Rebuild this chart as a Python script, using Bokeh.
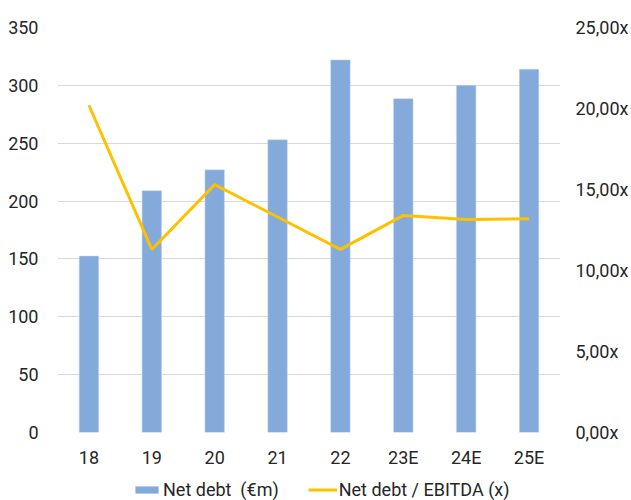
from bokeh.plotting import figure
from bokeh.layouts import column
from bokeh.models import (ColumnDataSource, FactorRange, Range1d, LinearAxis,
                          FixedTicker, CustomJSTickFormatter, Legend, LegendItem)
from bokeh.embed import file_html
from bokeh.resources import INLINE

categories = ["18", "19", "20", "21", "22", "23E", "24E", "25E"]
net_debt = [152.5, 209, 227, 253, 322, 288.5, 300, 314]
net_debt_ebitda = [20.2, 11.3, 15.3, 13.3, 11.3, 13.4, 13.15, 13.2]
left_ticks = [0, 50, 100, 150, 200, 250, 300, 350]
right_ticks = [0, 5, 10, 15, 20, 25]
series_names = ["Net debt  (€m)", "Net debt / EBITDA (x)"]

FONT = "Roboto"
TXT = "#262626"
BAR = "#84AADC"
LINE = "#FFC000"

src = ColumnDataSource(dict(cat=categories, debt=net_debt, ratio=net_debt_ebitda))

p = figure(width=631, height=470, x_range=FactorRange(*categories, range_padding=0),
           y_range=Range1d(0, 350), output_backend="svg", toolbar_location=None,
           min_border_left=57, min_border_right=68, min_border_top=27, min_border_bottom=37)
p.extra_y_ranges = {"r": Range1d(0, 25)}
p.outline_line_color = None

p.vbar(x="cat", top="debt", width=0.31, source=src,
       fill_color=BAR, line_color="#C5D6EE", line_width=0.5)
p.line(x="cat", y="ratio", source=src, y_range_name="r",
       line_color=LINE, line_width=3)

p.xgrid.grid_line_color = None
p.ygrid.grid_line_color = "#D9D9D9"
p.ygrid.grid_line_width = 1
p.ygrid.ticker = FixedTicker(ticks=left_ticks)

rax = LinearAxis(y_range_name="r", ticker=FixedTicker(ticks=right_ticks),
                 formatter=CustomJSTickFormatter(code="return tick.toFixed(2).replace('.', ',') + 'x';"))
p.add_layout(rax, "right")

for ax in [p.xaxis[0], p.yaxis[0], rax]:
    ax.axis_line_color = None
    ax.major_tick_line_color = None
    ax.minor_tick_line_color = None
    ax.major_tick_out = 0
    ax.major_tick_in = 0
    ax.major_label_text_font = FONT
    ax.major_label_text_font_size = "18px"
    ax.major_label_text_color = TXT

p.yaxis[0].ticker = FixedTicker(ticks=left_ticks)
p.yaxis[0].major_label_standoff = 19
p.xaxis[0].major_label_standoff = 14
rax.major_label_standoff = 15

# legend strip below the chart (its renderers use the same data, kept below the view)
lf = figure(width=631, height=30, x_range=FactorRange(*categories), y_range=Range1d(1000, 1001),
            output_backend="svg", toolbar_location=None,
            min_border_left=0, min_border_right=0, min_border_top=0, min_border_bottom=0)
lf.axis.visible = False
lf.grid.visible = False
lf.outline_line_color = None
lb = lf.vbar(x="cat", top="debt", width=0.31, source=src, fill_color=BAR, line_color=None)
ll = lf.line(x="cat", y="ratio", source=src, line_color=LINE, line_width=3)

legend = Legend(items=[LegendItem(label=series_names[0], renderers=[lb]),
                       LegendItem(label=series_names[1], renderers=[ll])],
                orientation="horizontal", location=(75, 0))
legend.border_line_color = None
legend.background_fill_alpha = 0
legend.label_text_font = FONT
legend.label_text_font_size = "18px"
legend.label_text_color = TXT
legend.glyph_width = 29
legend.glyph_height = 9
legend.label_standoff = 2
legend.spacing = 29
legend.padding = 0
legend.margin = 0
lf.add_layout(legend, "center")

open("out.html", "w").write(file_html(column(p, lf, spacing=0), INLINE))
